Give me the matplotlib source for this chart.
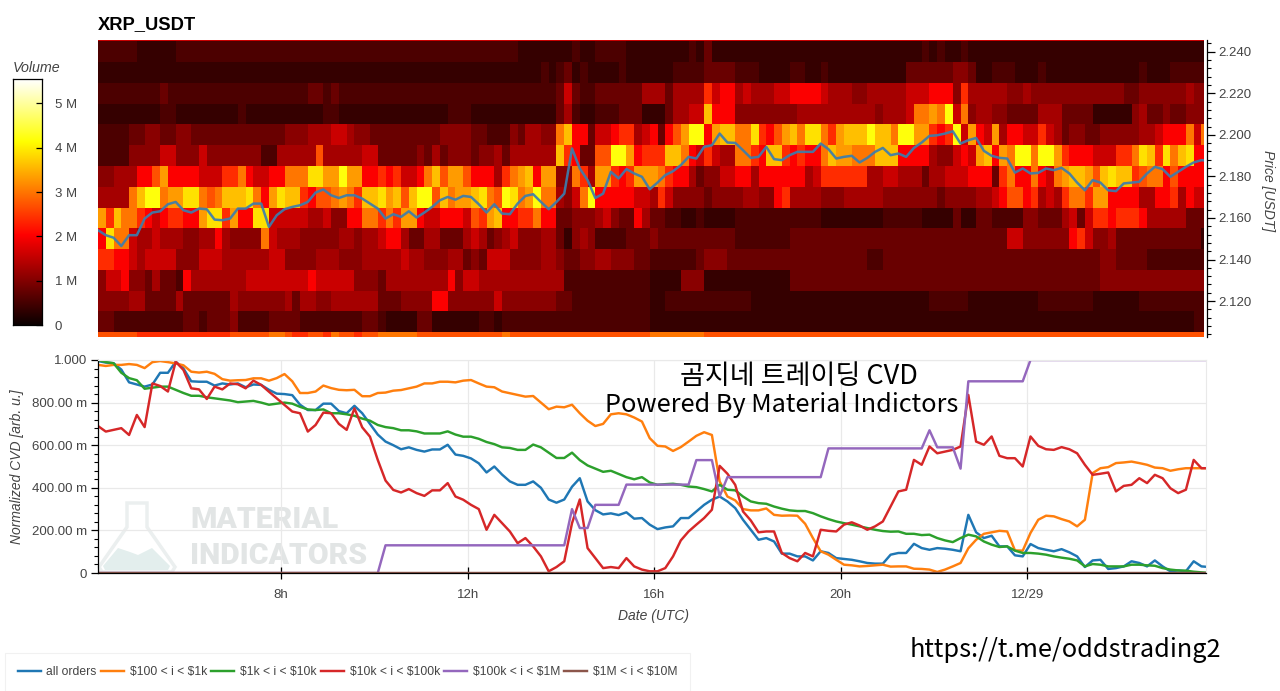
import matplotlib
matplotlib.use("Agg")
import matplotlib.pyplot as plt
import numpy as np
from matplotlib.patches import Polygon
from matplotlib.ticker import FixedLocator, FuncFormatter, MultipleLocator

W, H = 1280, 691
plt.rcParams["font.family"] = ["Liberation Sans", "DejaVu Sans"]

# heatmap: one hex digit per 10 min bin, level_values[digit] = volume in M
level_values = [0, 0.35, 0.55, 0.8, 1.05, 1.3, 1.6, 2.0, 2.4, 2.7, 3.0, 3.3, 3.6, 3.9, 4.2, 4.5]
price_bins = [2.25, 2.24, 2.23, 2.22, 2.21, 2.20, 2.19, 2.18, 2.17, 2.16, 2.15, 2.14, 2.13, 2.12, 2.11, 2.10]
heat_chunks = {
    2.25: ["6", "6", "6", "6"],
    2.24: ["22222 11111 22222 22222 22222 22222 22222 2", "222222222222222222 1111111 2 11 2222 1111",
           "11111 21311 11111 11111 11111 11111 11111 2", "12112 11111 11111 11111 11111 11111 11111 1"],
    2.23: ["1", "111111111111111111111 212312 1111 21 111",
           "11122 22333 32221 11122 11211 11111 11133 3", "33344 31122 21112 11111 11111 11211 12222 2"],
    2.22: ["22222 22232 22222 22222 22222 22332 32222 2", "22222222222222222222222 36322 333333 55",
           "55355 55867 75655 56677 77655 54455 55566 6", "77748 55555 44544 44444 44444 33444 44454 4"],
    2.21: ["11111 11122 11111 11121 11111 11112 21111 1", "111111111 222 1 1111 111111 352 11 222 333 11",
           "11355 66c77 74444 44445 55555 55554 5556a a", "bae6a 45544 33335 55333 31111 14533 43344 4"],
    2.20: ["222233443344333333333333444555665443", "33333333 4444 33 222 4 3 55 44 ac 77 3 66 788 5 68",
           "7379b ee7bc caad8 79bca dda8b cccec caeeb b", "878e6 b76b5 77668 65344 33444 44556 777a6 a"],
    2.19: ["222244446644464444444225555595555566", "33333 4 3 5 3 444 3 44 5 3 555555 c 8 7 33 99 ee b 7 88",
           "88cca 76865 5aa87 cc878 77acb baaac cc777 7", "54467 6bc7b aeeae eb877 76668 8adc8 dacd7 7"],
    2.18: ["4455577 9b7777666 88a76677 aaaddbbebb77", "87866 7ac9b b9777 58abc 7bb44 a85bb 878bb b",
           "ba877 53446 67757 77777 56888 88855 66555 3", "55666 77738 a77a7 6abcc b9cdc c89aa 79777 7"],
    2.17: ["5555aceeabbdda9acccda7bdcc8799aba8cc", "dbc9c ee9ca bbcda 9edab eaa54 6ae77 777666",
           "58644 44344 44554 47855 55444 55555 44444 4", "43444 45567 99785 658aa 8bb77 77557 78576 6"],
    2.16: ["b8caa87678877bdd8b77dd666665564477aa", "8a8bb 76677 7698b c7788 a7733 44456 433756",
           "33221 12111 12222 22222 22111 11111 22222 1", "11131 13322 22443 33563 68878 88755 55533 3"],
    2.15: ["7daa6 55655 54455 75444 4a655 54444 45545 5", "67753 35533 35653 45644 45531 45422 22333 3",
           "43333 33333 32222 22233 33333 33333 33333 3", "33333 33333 66444 44478 64453 33333 33333 1"],
    2.14: ["88776 56666 44466 65555 55664 44455 54445 5", "55565 54445 53436 66444 45543 34455 44433 3",
           "22222 23444 33333 33333 33333 33322 33333 3", "33333 33333 33333 33333 33443 33322 22222 2"],
    2.13: ["46674 43533 27555 55556 66666 66766 66644 4", "35555 55557 46655 55555 55552 22222 22222 2",
           "11114 44111 11111 11133 33333 33333 33333 3", "33333 33333 33333 33333 33444 44444 44444 4"],
    2.12: ["44445 53333 53333 33544 44445 35544 55555 5", "33344 44774 44444 64444 44433 22222 22222 2",
           "11222 22222 22211 11111 11111 11111 11111 1", "22222 11111 11112 22222 21111 11222 22222 2"],
    2.11: ["33222 22222 23323 33422 22333 32222 22223 3", "21111 33111 11122 12222 22222 22222 22222 2",
           "11111 11111 11111 11111 11111 11111 11111 1", "11111 11111 11111 11111 11111 11111 11112 2"],
    2.10: ["99999 88888 88888 88999 99aa9 88998 a9989 9", "aaaaa 99999 99999 9a999 99999 99999 99999 9",
           "aaaaa aa999 99999 99999 99999 99999 99999 9", "99999 99999 99999 99999 99999 99999 99999 9"],
}

# one point per 10 min, CVD values in milli units
all_orders = [995, 988, 985, 955, 895, 885, 875, 885, 940, 940, 992, 960, 900, 898, 898, 880, 890, 885, 890, 872,
              885, 883, 860, 842, 840, 835, 790, 765, 765, 795, 795, 760, 750, 785, 750, 700, 650, 617, 600, 581,
              590, 578, 570, 580, 580, 602, 556, 550, 538, 515, 472, 500, 462, 430, 414, 414, 430, 400, 345, 330,
              345, 405, 445, 336, 295, 275, 280, 272, 285, 255,
              258, 227, 206, 214, 219, 258, 258, 289, 320, 344, 359, 336, 305, 250, 203, 156, 164, 148, 91, 91,
              78, 78, 59, 102, 94, 70, 66, 62, 55, 47, 44, 44, 86, 94, 94, 137, 117, 109, 117, 114,
              109, 102, 273, 191, 164, 175, 125, 125, 83, 78, 136, 117, 109, 102, 112, 97, 78, 28, 59, 62,
              19, 23, 31, 55, 47, 31, 59, 31, 8, 12, 8, 55, 31, 28]
orders_100_1k = [977, 972, 977, 977, 981, 977, 962, 990, 995, 990, 984, 975, 945, 941, 945, 935, 910, 903, 905, 906,
                 914, 914, 903, 915, 934, 900, 845, 845, 852, 880, 868, 860, 858, 860, 830, 830, 845, 847, 856, 859,
                 867, 875, 890, 890, 898, 898, 895, 903, 906, 890, 875, 872, 852, 844, 836, 828, 831, 800, 769, 781,
                 778, 790, 750, 715, 690, 700, 745, 750, 745, 730,
                 711, 633, 597, 594, 573, 591, 617, 644, 661, 648, 430, 359, 341, 300, 294, 294, 303, 273, 269, 270,
                 269, 231, 164, 102, 86, 62, 39, 36, 31, 33, 36, 39, 30, 31, 31, 20, 19, 16, 5, 16,
                 31, 47, 116, 156, 184, 191, 198, 195, 106, 105, 188, 250, 269, 266, 253, 242, 219, 250, 469, 492,
                 497, 516, 519, 523, 516, 508, 495, 492, 480, 487, 492, 492, 492, 492]
orders_1k_10k = [1000, 990, 985, 940, 915, 905, 865, 870, 875, 875, 860, 845, 832, 832, 825, 820, 815, 810, 802, 805,
                 808, 800, 790, 795, 800, 795, 780, 768, 765, 768, 750, 750, 745, 738, 725, 715, 695, 685, 680, 670,
                 670, 665, 655, 655, 655, 665, 650, 640, 640, 630, 615, 605, 590, 587, 578, 578, 603, 590, 565, 540,
                 540, 565, 530, 505, 490, 475, 480, 465, 450, 440,
                 450, 425, 414, 417, 419, 414, 406, 403, 394, 383, 414, 391, 388, 359, 336, 328, 325, 312, 302, 294,
                 291, 291, 281, 266, 253, 242, 234, 227, 219, 211, 203, 197, 194, 195, 184, 184, 178, 180, 164, 153,
                 145, 164, 180, 172, 148, 133, 122, 125, 105, 94, 94, 91, 86, 78, 72, 67, 59, 31, 42, 39,
                 31, 31, 31, 39, 39, 36, 34, 23, 16, 12, 11, 6, 3, 0]
orders_10k_100k = [690, 664, 672, 680, 648, 742, 685, 890, 878, 852, 992, 953, 867, 862, 817, 875, 862, 890, 886, 867,
                   903, 883, 851, 820, 789, 758, 750, 664, 695, 753, 750, 700, 672, 773, 684, 640, 531, 434, 390, 378,
                   394, 375, 362, 388, 388, 422, 359, 344, 320, 300, 203, 273, 234, 195, 140, 164, 125, 78, 8, 28,
                   55, 234, 345, 117, 70, 23, 28, 23, 70, 31,
                   16, 8, 8, 23, 78, 153, 195, 227, 258, 297, 503, 466, 414, 289, 247, 191, 195, 195, 94, 70,
                   55, 94, 78, 203, 198, 195, 227, 238, 223, 203, 219, 242, 312, 383, 391, 531, 508, 594, 562, 570,
                   578, 594, 836, 617, 602, 641, 550, 539, 539, 500, 641, 597, 581, 578, 591, 581, 562, 508, 461, 466,
                   472, 383, 409, 414, 445, 422, 461, 445, 398, 375, 391, 531, 492, 492]
orders_100k_1m = ([0] * 37 + [130] * 24 + [300] + [211] * 2 + [320] * 4 + [415] * 9 + [530] * 3 + [360]
                  + [450] * 13 + [585] * 13 + [670] + [590] * 3 + [490] + [900] * 8 + [1000] * 24)
orders_1m_10m = [0] * 144

# price every 10 min, USDT
price = [2.1541, 2.1517, 2.1505, 2.1465, 2.1517, 2.1517, 2.1597, 2.1626, 2.1632, 2.1666, 2.1677, 2.1637, 2.1626,
         2.1645, 2.1642, 2.1592, 2.1589, 2.1597, 2.1645, 2.1645, 2.1669, 2.1669, 2.1557, 2.1613, 2.1642, 2.1653,
         2.1661, 2.1677, 2.1722, 2.1737, 2.1709, 2.1696, 2.1709, 2.1709, 2.1693, 2.1669,
         2.1645, 2.1597, 2.1618, 2.1605, 2.1632, 2.1602, 2.1626, 2.1653, 2.1685, 2.1701, 2.1688, 2.1706, 2.1701,
         2.1666, 2.1626, 2.1666, 2.1621, 2.1618, 2.1669, 2.1706, 2.1714, 2.1677, 2.1642, 2.1677, 2.1717, 2.1934,
         2.1838, 2.1782, 2.1696, 2.1717, 2.1822, 2.1790, 2.1835, 2.1814, 2.1798,
         2.1738, 2.1770, 2.1806, 2.1825, 2.1854, 2.1894, 2.1886, 2.1942, 2.1950, 2.2006, 2.1963, 2.1961, 2.1926,
         2.1889, 2.1894, 2.1942, 2.1883, 2.1878, 2.1902, 2.1918, 2.1918, 2.1918, 2.1958, 2.1931, 2.1886, 2.1894,
         2.1899, 2.1867, 2.1889, 2.1918, 2.1937, 2.1902, 2.1910, 2.1894, 2.1937, 2.1963,
         2.1995, 2.1998, 2.2006, 2.2017, 2.1958, 2.1974, 2.1985, 2.1923, 2.1899, 2.1889, 2.1886, 2.1818, 2.1838,
         2.1814, 2.1817, 2.1838, 2.1830, 2.1841, 2.1814, 2.1770, 2.1733, 2.1782, 2.1770, 2.1733, 2.1729, 2.1766,
         2.1770, 2.1774, 2.1814, 2.1846, 2.1835, 2.1798, 2.1822, 2.1846, 2.1867, 2.1878, 2.1875]

series_names = ["all orders", r"\$100 < i < \$1k", r"\$1k < i < \$10k", r"\$10k < i < \$100k",
                r"\$100k < i < \$1M", r"\$1M < i < \$10M"]
series_colors = ["#1f77b4", "#ff7f0e", "#2ca02c", "#d62728", "#9467bd", "#8c564b"]
series_values = [all_orders, orders_100_1k, orders_1k_10k, orders_10k_100k, orders_100k_1m, orders_1m_10m]

x_ticks = [8, 12, 16, 20, 24]
x_labels = ["8h", "12h", "16h", "20h", "12/29"]
cvd_ticks = [0, 0.2, 0.4, 0.6, 0.8, 1.0]
cvd_labels = ["0", "200.00 m", "400.00 m", "600.00 m", "800.00 m", "1.000"]
volume_ticks = [0, 1, 2, 3, 4, 5]
volume_labels = ["0", "1 M", "2 M", "3 M", "4 M", "5 M"]
volume_max = 5.55


def px_axes(x0, y0, x1, y1, **kw):
    # axes from picture pixels, y counted from the top
    return fig.add_axes([x0 / W, 1 - y1 / H, (x1 - x0) / W, (y1 - y0) / H], **kw)


def px(x, y):
    return x / W, 1 - y / H


def parse_chunk(chunk):
    chunk = chunk.replace(" ", "")
    return [level_values[int(c, 16)] for c in chunk.ljust(36, chunk[-1])[:36]]


def heat_row(chunks):
    a, b, c, d = [parse_chunk(s) for s in chunks]
    return a + b[:35] + c + d


start = 4 + 4.4 / 60
hours_per_px = 4 / 186.5
fig = plt.figure(figsize=(W / 100, H / 100), dpi=100)

# watermark layer, in picture pixels
bg = px_axes(0, 0, W, H, zorder=-1)
bg.set_xlim(0, W)
bg.set_ylim(H, 0)
bg.axis("off")
flask = [(127, 503), (147, 503), (147, 527), (175, 567), (172, 572), (102, 572), (99, 567), (127, 527)]
bg.add_patch(Polygon(flask, closed=True, fill=False, ec="#ebefef", lw=2.5))
mound = [(103, 566), (118, 548), (130, 552), (138, 555), (152, 548), (170, 566), (168, 570), (105, 570)]
bg.add_patch(Polygon(mound, closed=True, fc="#e3eeed", ec="none"))
bg.text(190, 520, "MATERIAL", fontsize=21.7, fontweight="black", color="#e2e5e5", va="center", family="Roboto")
bg.text(190, 556, "INDICATORS", fontsize=21.7, fontweight="black", color="#e2e5e5", va="center", family="Roboto")

# heatmap
ax_heat = px_axes(98, 40, 1203.5, 337)
grid = np.array([heat_row(heat_chunks[p]) for p in price_bins])
time_edges = start + np.arange(grid.shape[1] + 1) / 6
price_edges = np.array(price_bins + [price_bins[-1] - 0.01]) + 0.005
ax_heat.pcolormesh(time_edges, price_edges, grid, cmap="hot", vmin=0, vmax=volume_max, shading="flat",
                   rasterized=True, linewidth=0)
ax_heat.plot(start + np.arange(len(price)) / 6, price, color="#3c7dae", lw=1.8, alpha=0.92)
ax_heat.set_xlim(start, start + 1105.5 * hours_per_px)
ax_heat.set_ylim(2.24 - (337 - 51.7) / 20.78 * 0.01, 2.24 + (51.7 - 40) / 20.78 * 0.01)
ax_heat.set_xticks([])
for side in ["top", "left", "bottom"]:
    ax_heat.spines[side].set_visible(False)
ax_heat.yaxis.tick_right()
ax_heat.spines["right"].set_position(("outward", 2.5))
ax_heat.spines["right"].set_linewidth(0.9)
ax_heat.yaxis.set_major_locator(MultipleLocator(0.02))
ax_heat.yaxis.set_minor_locator(MultipleLocator(0.004))
ax_heat.yaxis.set_major_formatter(FuncFormatter(lambda v, _: f"{v:.3f}"))
ax_heat.tick_params(axis="y", which="major", length=5.5, width=0.9, labelsize=9.5, labelcolor="#444444", pad=3)
ax_heat.tick_params(axis="y", which="minor", length=3, width=0.8)

# colour bar
ax_bar = px_axes(12.5, 79, 41.5, 325)
ax_bar.imshow(np.linspace(volume_max, 0, 256).reshape(-1, 1), cmap="hot", aspect="auto", vmin=0, vmax=volume_max,
              extent=[0, 1, 0, volume_max])
ax_bar.set_xticks([])
ax_bar.yaxis.tick_right()
ax_bar.set_yticks(volume_ticks, volume_labels)
ax_bar.tick_params(axis="y", direction="in", length=4.5, width=0.9, labelsize=9.5, labelcolor="#444444", pad=9.5)
for s in ax_bar.spines.values():
    s.set_linewidth(0.9)

# CVD panel
ax = px_axes(98, 360, 1206, 573)
ax.patch.set_alpha(0)
t_cvd = start + np.arange(144) / 6
for values, name, color in zip(series_values, series_names, series_colors):
    ax.plot(t_cvd, np.array(values) / 1000, color=color, lw=1.75, label=name, solid_joinstyle="round")
ax.set_xlim(start, start + 1108 * hours_per_px)
ax.set_ylim(0, 1)
ax.set_xticks(x_ticks, x_labels)
ax.set_yticks(cvd_ticks, cvd_labels)
ax.yaxis.set_minor_locator(FixedLocator(np.arange(0, 1.001, 0.04)))
ax.grid(True, color="#e9e9e9", lw=0.9)
ax.set_axisbelow(True)
for side in ["top", "right"]:
    ax.spines[side].set_color("#e9e9e9")
    ax.spines[side].set_linewidth(0.8)
for side in ["left", "bottom"]:
    ax.spines[side].set_linewidth(0.9)
ax.tick_params(axis="y", which="major", length=5, width=0.9, labelsize=9.5, labelcolor="#444444", pad=3)
ax.tick_params(axis="y", which="minor", length=3, width=0.8)
ax.tick_params(axis="x", which="major", direction="inout", length=8, width=0.9, labelsize=9.5, labelcolor="#444444", pad=7.5)

# labels
text_color = "#444444"
fig.text(*px(98, 25), "XRP_USDT", fontsize=13.2, fontweight="bold", color="black", va="center")
fig.text(*px(13, 68), "Volume", fontsize=10.3, style="italic", color=text_color, va="center")
fig.text(*px(1268, 191), "Price [USDT]", fontsize=10, style="italic", color=text_color, rotation=270, ha="center", va="center")
fig.text(*px(17, 467), "Normalized CVD [arb. u.]", fontsize=10, style="italic", color=text_color, rotation=90, ha="center", va="center")
fig.text(*px(653, 616), "Date (UTC)", fontsize=10, style="italic", color=text_color, ha="center", va="center")

cjk = ["Noto Sans CJK KR", "DejaVu Sans"]
fig.text(*px(799, 376), "곰지네 트레이딩 CVD", fontsize=19.5, fontweight="medium", family=cjk, color="black", ha="center", va="center")
fig.text(*px(782, 405), "Powered By Material Indictors", fontsize=18.2, fontweight="medium", family=cjk, color="black", ha="center", va="center")
fig.text(*px(1065, 650), "https://t.me/oddstrading2", fontsize=18.2, fontweight="medium", family=cjk, color="black", ha="center", va="center")

# legend along the bottom, as in the original page
handles, labels = ax.get_legend_handles_labels()
leg = fig.legend(handles, labels, ncol=6, loc="center left", bbox_to_anchor=px(5, 672), bbox_transform=fig.transFigure,
                 fontsize=8.7, frameon=True, fancybox=False, edgecolor="#eeeeee", handlelength=1.9, handletextpad=0.48,
                 columnspacing=0.35, borderpad=1.05, borderaxespad=0, labelcolor="#444444")
leg.get_frame().set_linewidth(0.8)

fig.savefig("out.png", dpi=100)
